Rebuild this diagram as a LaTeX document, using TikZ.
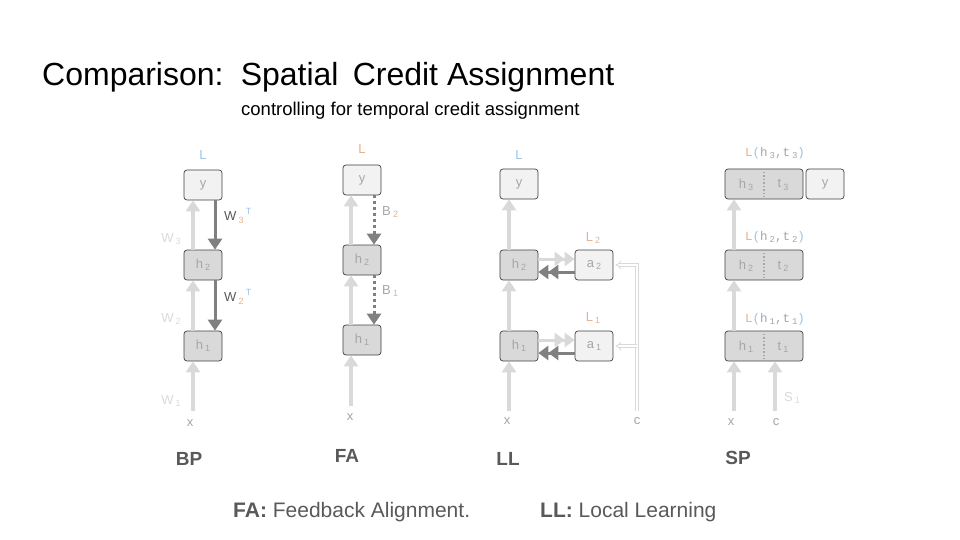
\documentclass[tikz,border=0pt]{standalone}
\usepackage{fontspec}
\setmainfont{Liberation Sans}
\newfontfamily\monof{Liberation Mono}
\usetikzlibrary{arrows.meta}
\definecolor{lg}{HTML}{D9D9D9}
\definecolor{dg}{HTML}{808080}
\definecolor{boxl}{HTML}{F2F2F2}
\definecolor{boxd}{HTML}{D9D9D9}
\definecolor{btxt}{HTML}{A6A6A6}
\definecolor{lblue}{HTML}{9DC3E6}
\definecolor{lor}{HTML}{E6B08A}
\definecolor{wtxt}{HTML}{595959}
\newcommand\sbs[1]{\,\raisebox{-0.35ex}{\fontsize{9}{9}\selectfont #1}}
\newcommand\sps[1]{\,\raisebox{0.9ex}{\fontsize{9}{9}\selectfont #1}}
\begin{document}
\begin{tikzpicture}[x=1pt,y=-1pt,
  bx/.style={rounded corners=3pt, minimum width=38pt, minimum height=30pt, inner sep=0pt,
    draw=black!75, line width=0.7pt, font=\fontsize{13}{13}\selectfont, text=btxt},
  bxl/.style={bx, fill=boxl},
  bxd/.style={bx, fill=boxd},
  wide/.style={bxd, minimum width=78pt},
  uparr/.style={draw=lg, line width=3.5pt, -{Triangle[width=14pt,length=11pt]}},
  dnarr/.style={draw=dg, line width=3pt, -{Triangle[width=14pt,length=11pt]}},
  dotarr/.style={draw=dg, line width=3pt, dash pattern=on 3pt off 3pt, -{Triangle[width=14pt,length=11pt]}},
  dblL/.style={draw=lg, line width=3pt, -{Triangle[width=14pt,length=10pt]Triangle[width=14pt,length=10pt]}},
  dblD/.style={draw=dg, line width=3pt, -{Triangle[width=14pt,length=10pt]Triangle[width=14pt,length=10pt]}},
  cline/.style={draw=lg, double=white, line width=0.8pt, double distance=2.2pt},
  lab/.style={font=\fontsize{13}{13}\selectfont, inner sep=0pt},
  mlab/.style={font=\monof\fontsize{12.5}{13}\selectfont, inner sep=0pt},
  meth/.style={font=\bfseries\fontsize{19}{19}\selectfont, text=wtxt, inner sep=0pt}
]
\useasboundingbox (0,0) rectangle (960,540);

% title
\node[anchor=west, inner sep=0pt, font=\fontsize{32}{32}\selectfont] (title) at (42,77) {Comparison:\, Spatial\, Credit Assignment};
\node[anchor=west, inner sep=0pt, font=\fontsize{18.5}{19}\selectfont] (sub) at (241,111) {controlling for temporal credit assignment};

% ---------- BP ----------
\node[bxl] (bpy) at (203,185) {y};
\node[bxd] (bph2) at (203,265) {h\sbs{2}};
\node[bxd] (bph1) at (203,346) {h\sbs{1}};
\node[lab, text=lblue] (bpL) at (203,155) {L};
\node[lab, text=btxt] (bpx) at (190,423) {x};
\coordinate (bpx0) at (193,411);
\draw[uparr] (bpx0) -- (bpx0 |- bph1.south);
\draw[uparr] ([xshift=-10pt]bph1.north) -- ([xshift=-10pt]bph2.south);
\draw[uparr] ([xshift=-10pt]bph2.north) -- ([xshift=-10pt]bpy.south);
\draw[dnarr] ([xshift=12pt]bpy.south) -- ([xshift=12pt]bph2.north);
\draw[dnarr] ([xshift=12pt]bph2.south) -- ([xshift=12pt]bph1.north);
\node[lab, text=lg] (bpw3) at (171,239) {W\sbs{3}};
\node[lab, text=lg] (bpw2) at (171,319) {W\sbs{2}};
\node[lab, text=lg] (bpw1) at (171,401) {W\sbs{1}};
\node[lab, anchor=west] (bpw3t) at (224,216) {\textcolor{wtxt}{W}\textcolor{lor}{\sbs{3}}\textcolor{lblue}{\sps{T}}};
\node[lab, anchor=west] (bpw2t) at (224,297) {\textcolor{wtxt}{W}\textcolor{lor}{\sbs{2}}\textcolor{lblue}{\sps{T}}};

% ---------- FA ----------
\node[bxl] (fay) at (362,180) {y};
\node[bxd] (fah2) at (362,260) {h\sbs{2}};
\node[bxd] (fah1) at (362,340) {h\sbs{1}};
\node[lab, text=lor] (faL) at (362,149) {L};
\node[lab, text=btxt] (fax) at (350,417) {x};
\coordinate (fax0) at (351,406);
\draw[uparr] (fax0) -- (fax0 |- fah1.south);
\draw[uparr] ([xshift=-11pt]fah1.north) -- ([xshift=-11pt]fah2.south);
\draw[uparr] ([xshift=-11pt]fah2.north) -- ([xshift=-11pt]fay.south);
\draw[dotarr] ([xshift=12pt]fay.south) -- ([xshift=12pt]fah2.north);
\draw[dotarr] ([xshift=12pt]fah2.south) -- ([xshift=12pt]fah1.north);
\node[lab, anchor=west] (fab2) at (382,212) {\textcolor{btxt}{B}\textcolor{lor}{\sbs{2}}};
\node[lab, anchor=west] (fab1) at (382,291) {\textcolor{btxt}{B}\textcolor{lor}{\sbs{1}}};

% ---------- LL ----------
\node[bxl] (lly) at (519,184) {y};
\node[bxd] (llh2) at (519,265) {h\sbs{2}};
\node[bxd] (llh1) at (519,346) {h\sbs{1}};
\node[bxl] (lla2) at (594,265) {a\sbs{2}};
\node[bxl] (lla1) at (594,346) {a\sbs{1}};
\node[lab, text=lblue] (llL) at (519,155) {L};
\node[lab, text=lor] (llL2) at (593,238) {L\sbs{2}};
\node[lab, text=lor] (llL1) at (593,318) {L\sbs{1}};
\node[lab, text=btxt] (llx) at (507,421) {x};
\node[lab, text=btxt] (llc) at (637,421) {c};
\coordinate (llx0) at (509,411);
\draw[uparr] (llx0) -- (llx0 |- llh1.south);
\draw[uparr] ([xshift=-10pt]llh1.north) -- ([xshift=-10pt]llh2.south);
\draw[uparr] ([xshift=-10pt]llh2.north) -- ([xshift=-10pt]lly.south);
\draw[dblL] ([yshift=6pt]llh2.east) -- ([yshift=6pt]lla2.west);
\draw[dblD] ([yshift=-7pt]lla2.west) -- ([yshift=-7pt]llh2.east);
\draw[dblL] ([yshift=6pt]llh1.east) -- ([yshift=6pt]lla1.west);
\draw[dblD] ([yshift=-7pt]lla1.west) -- ([yshift=-7pt]llh1.east);
\coordinate (llc0) at (637,411);
\coordinate (llcb) at (637,346);
\draw[cline, -{Implies[length=7pt,width=14pt]}] (llc0) -- (637,265) -- ([xshift=2pt]lla2.east);
\draw[cline, -{Implies[length=7pt,width=14pt]}] (llcb) -- ([xshift=2pt]lla1.east);

% ---------- SP ----------
\node[wide] (sp3) at (764,184) {};
\node[wide] (sp2) at (764,265) {};
\node[wide] (sp1) at (764,346) {};
\node[bxl] (spy) at (825,184) {y};
\foreach \n in {sp3,sp2,sp1}{
  \draw[draw=btxt, line width=1.5pt, dash pattern=on 1.5pt off 2pt] ([yshift=-3pt]\n.north) -- ([yshift=3pt]\n.south);
}
\node[lab, text=btxt] (sph3) at (746,185) {h\sbs{3}};
\node[lab, text=btxt] (spt3) at (783,185) {t\sbs{3}};
\node[lab, text=btxt] (sph2) at (746,266) {h\sbs{2}};
\node[lab, text=btxt] (spt2) at (783,266) {t\sbs{2}};
\node[lab, text=btxt] (sph1) at (746,347) {h\sbs{1}};
\node[lab, text=btxt] (spt1) at (783,347) {t\sbs{1}};
\node[mlab] (spL3) at (775,153) {\textcolor{lor}{L}\textcolor{lblue}{(}\textcolor{btxt}{h\sbs{3},t\sbs{3}}\textcolor{lblue}{)}};
\node[mlab] (spL2) at (775,237) {\textcolor{lor}{L}\textcolor{lblue}{(}\textcolor{btxt}{h\sbs{2},t\sbs{2}}\textcolor{lblue}{)}};
\node[mlab] (spL1) at (775,319) {\textcolor{lor}{L}\textcolor{lblue}{(}\textcolor{btxt}{h\sbs{1},t\sbs{1}}\textcolor{lblue}{)}};
\node[lab, text=btxt] (spx) at (731,422) {x};
\node[lab, text=btxt] (spc) at (776,422) {c};
\node[lab, text=lg] (sps1) at (792,398) {S\sbs{1}};
\coordinate (spx0) at (734,411);
\coordinate (spc0) at (775,411);
\draw[uparr] (spx0) -- (spx0 |- sp1.south);
\draw[uparr] (spc0) -- (spc0 |- sp1.south);
\draw[uparr] ([xshift=-30pt]sp1.north) -- ([xshift=-30pt]sp2.south);
\draw[uparr] ([xshift=-30pt]sp2.north) -- ([xshift=-30pt]sp3.south);

% method labels
\node[meth] (mbp) at (189,459) {BP};
\node[meth] (mfa) at (347,456) {FA};
\node[meth] (mll) at (508,459) {LL};
\node[meth] (msp) at (738,458) {SP};

% legend
\node[anchor=west, inner sep=0pt, font=\fontsize{21}{21}\selectfont, text=wtxt] (leg1) at (233,512) {\textbf{FA:} Feedback Alignment.};
\node[anchor=west, inner sep=0pt, font=\fontsize{21}{21}\selectfont, text=wtxt] (leg2) at (540,512) {\textbf{LL:} Local Learning};
\end{tikzpicture}
\end{document}
